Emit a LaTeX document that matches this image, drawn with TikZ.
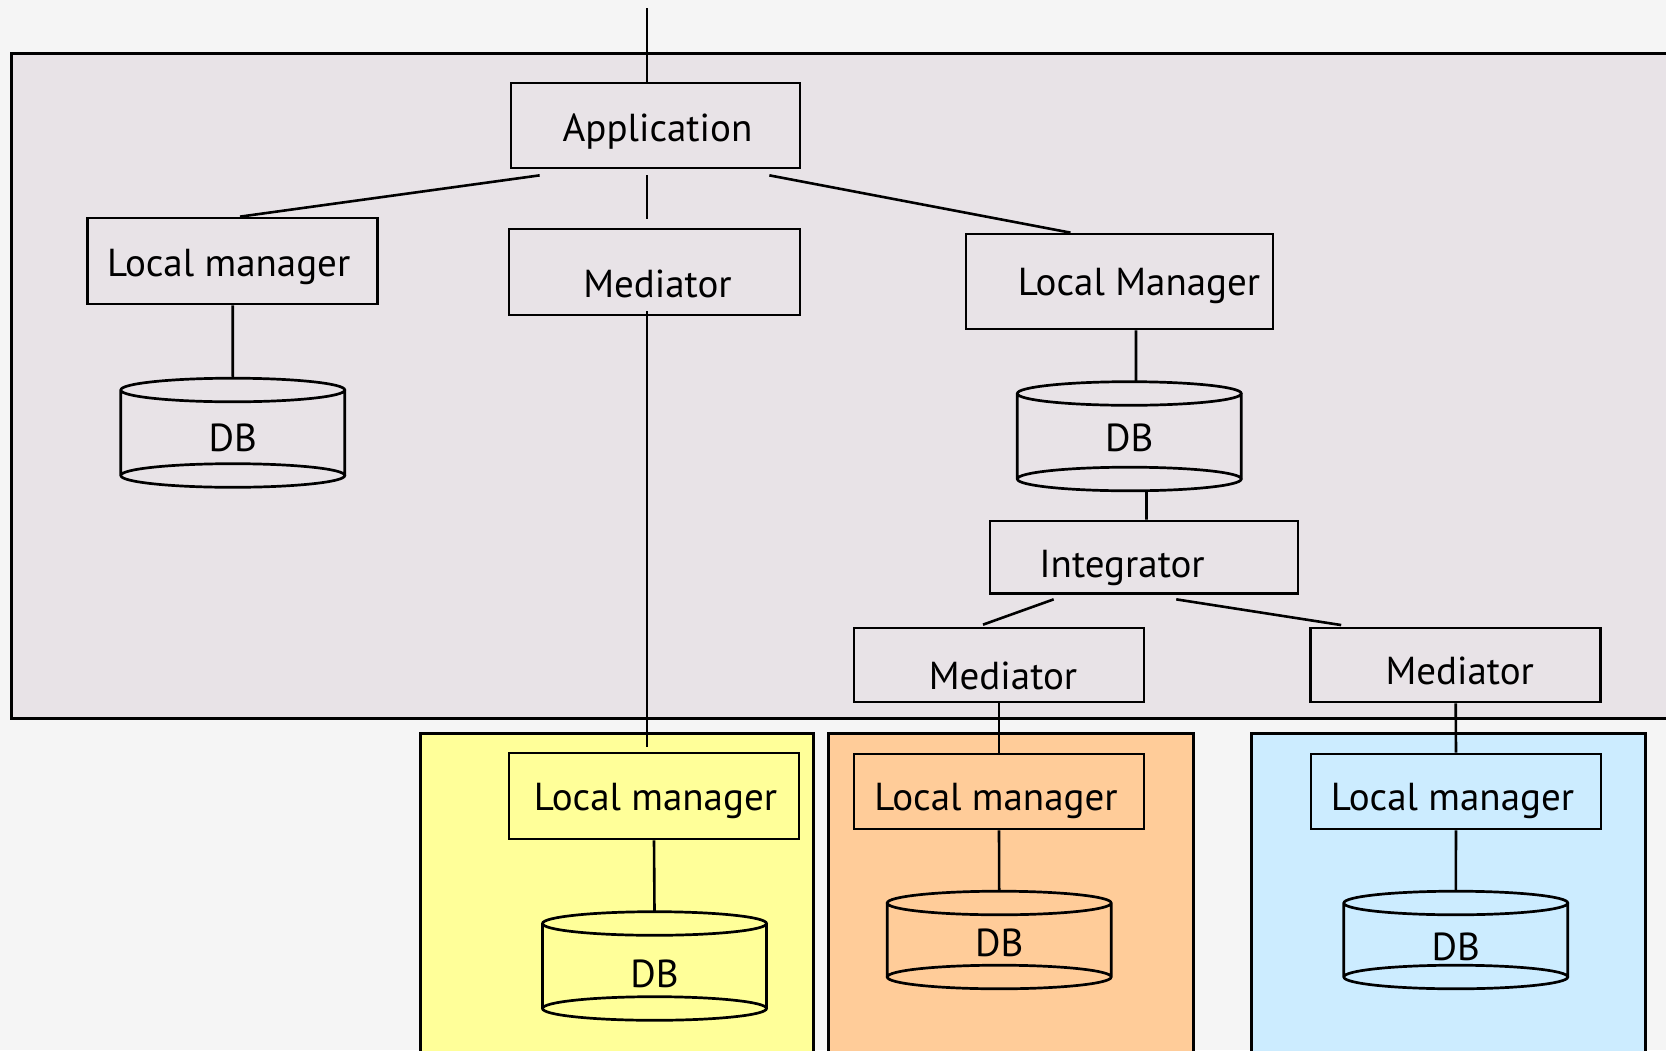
\documentclass[tikz,border=0pt]{standalone}
\usepackage{fontspec}
\setmainfont{PT Sans}
\usetikzlibrary{calc}

\definecolor{pagebg}{HTML}{F5F5F5}
\definecolor{sitegray}{HTML}{E8E3E7}
\definecolor{siteyellow}{HTML}{FFFF99}
\definecolor{siteorange}{HTML}{FFCC99}
\definecolor{siteblue}{HTML}{CCECFF}

\tikzset{
  site/.style={draw, line width=1.5pt},
  unitbox/.style 2 args={draw, line width=1.35pt, rectangle, inner sep=0pt,
    minimum width=#1, minimum height=#2},
  lbl/.style={font=\fontsize{19.5}{22}\selectfont, inner sep=0pt,
    text height=13.6pt, text depth=0pt},
  link/.style={line width=1.3pt},
  dbline/.style={line width=1.35pt},
}

% Database cylinder: name, centre x, top ellipse y, bottom ellipse y, fill, text y
\newcommand\dbcyl[6]{%
  \fill[#5] (#2-112,#3) rectangle (#2+112,#4);
  \fill[#5] (#2,#4) ellipse [x radius=56pt, y radius=5.9pt];
  \draw[dbline] (#2-112,#3) -- (#2-112,#4) (#2+112,#3) -- (#2+112,#4)
    (#2,#3) ellipse [x radius=56pt, y radius=5.9pt]
    (#2,#4) ellipse [x radius=56pt, y radius=5.9pt];
  \coordinate (#1-top) at (#2,#3-11.8);
  \coordinate (#1-bot) at (#2,#4+11.8);
  \node[lbl] (#1) at (#2,#6) {DB};
}

\begin{document}
\begin{tikzpicture}[x=0.5pt, y=-0.5pt]
\useasboundingbox (0,0) rectangle (1666,1050);
\clip (0,0) rectangle (1666,1050);
\fill[pagebg] (0,0) rectangle (1666,1050);

% sites
\filldraw[site, fill=sitegray] (11.7,53) rectangle (1700,718);
\filldraw[site, fill=siteyellow] (420,733.6) rectangle (813,1100);
\filldraw[site, fill=siteorange] (828,733.6) rectangle (1193,1100);
\filldraw[site, fill=siteblue] (1251.6,733.6) rectangle (1645.8,1100);

% components
\node[unitbox={144.5pt}{42.5pt}, label={[lbl, shift={(2,2)}]center:Application}] (app) at (655.5,125.5) {};
\node[unitbox={145pt}{43pt}, label={[lbl, shift={(-4,2)}]center:Local manager}] (lmL) at (232.7,261) {};
\node[unitbox={145.5pt}{43pt}, label={[lbl, shift={(3,11.5)}]center:Mediator}] (medA) at (654.5,272) {};
\node[unitbox={153.5pt}{47.5pt}, label={[lbl, shift={(19.5,0.5)}]center:Local Manager}] (lmR) at (1119.5,281.5) {};
\node[unitbox={154pt}{36.3pt}, label={[lbl, shift={(-22,7)}]center:Integrator}] (integ) at (1144,557.3) {};
\node[unitbox={145pt}{37pt}, label={[lbl, shift={(4,10.5)}]center:Mediator}] (medB) at (999,665) {};
\node[unitbox={145pt}{37pt}, label={[lbl, shift={(4,5.5)}]center:Mediator}] (medC) at (1455.7,665) {};
\node[unitbox={145pt}{43pt}, label={[lbl, shift={(1.5,1)}]center:Local manager}] (lmY) at (654,796) {};
\node[unitbox={145pt}{37.5pt}, label={[lbl, shift={(-3,5.5)}]center:Local manager}] (lmO) at (999,791.5) {};
\node[unitbox={145pt}{37.5pt}, label={[lbl, shift={(-3.5,5.5)}]center:Local manager}] (lmB) at (1456,791.5) {};

% databases
\dbcyl{dbL}{232.8}{390}{475.5}{sitegray}{438}
\dbcyl{dbR}{1129.3}{393.5}{479}{sitegray}{438}
\dbcyl{dbY}{654.5}{923.5}{1008.5}{siteyellow}{974}
\dbcyl{dbO}{999.2}{903}{977}{siteorange}{943}
\dbcyl{dbB}{1455.8}{903}{977}{siteblue}{947}

% connectors
\coordinate (in) at (647,8);
\draw[link] (in) -- (in |- app.north);
\draw[link] ($(app.south west)+(30,6)$) -- ($(lmL.north)+(7.3,0)$);
\draw[link] ($(app.south)+(-8.5,6)$) -- ($(medA.north)+(-7.5,-9)$);
\draw[link] ($(app.south east)+(-32,6)$) -- ($(lmR.north)+(-49,0)$);
\draw[link] (lmL.south) -- (dbL-top);
\draw[link] ($(medA.south)+(-7.5,-5)$) -- ($(lmY.north)+(-7,-5)$);
\draw[link] ($(lmR.south)+(16.5,0)$) -- ($(dbR-top)+(6.7,0)$);
\draw[link] ($(dbR-bot)+(17.2,0)$) -- ($(integ.north)+(2.5,0)$);
\draw[link] ($(integ.south west)+(65,4.4)$) -- ($(medB.north)+(-16,-2)$);
\draw[link] ($(integ.south west)+(187.6,4.4)$) -- ($(medC.north west)+(31.8,-1.6)$);
\draw[link] (medB.south) -- (lmO.north);
\draw[link] (lmO.south) -- (dbO-top);
\draw[link] (medC.south) -- (lmB.north);
\draw[link] (lmB.south) -- (dbB-top);
\draw[link] (lmY.south) -- (dbY-top);
\end{tikzpicture}
\end{document}
